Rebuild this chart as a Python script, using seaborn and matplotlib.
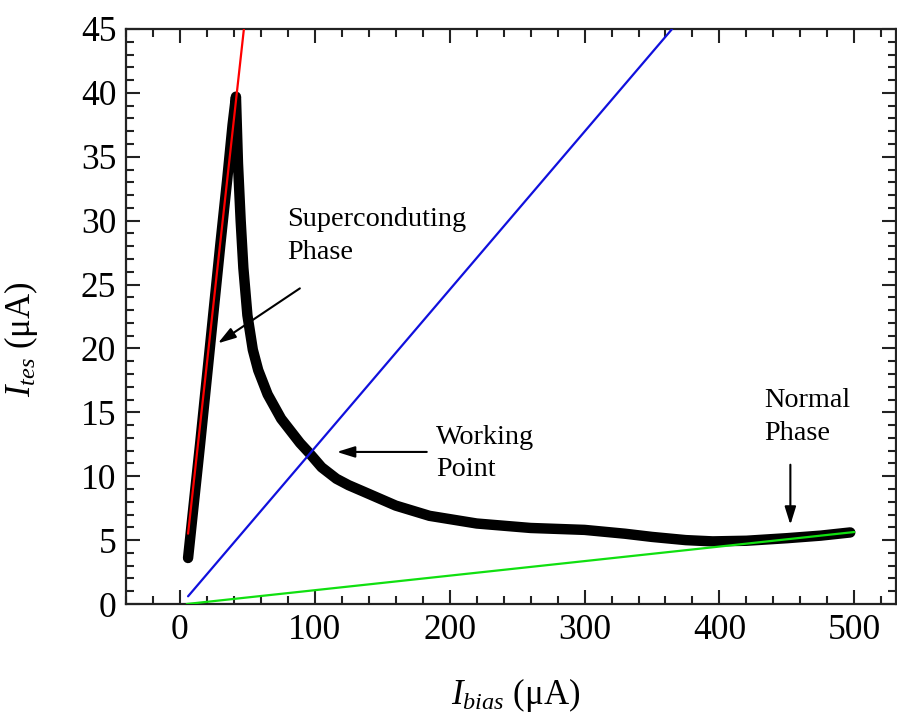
import numpy as np
import pandas as pd
import matplotlib
matplotlib.use("Agg")
import matplotlib.pyplot as plt
import seaborn as sns
from matplotlib.ticker import MultipleLocator

# ---- data ----
i_bias = [6, 10, 15, 20, 25, 30, 35, 39, 41.5, 43, 45, 47, 50, 54, 58, 65, 75,
          89, 96, 105, 116, 125, 136, 160, 185, 220, 260, 300, 330, 350, 375,
          395, 420, 450, 475, 497]
i_tes = [3.6, 7.6, 12.6, 17.8, 23.0, 28.2, 33.2, 37.5, 39.7, 34.5, 30.0, 26.3,
         22.6, 19.9, 18.3, 16.4, 14.5, 12.6, 11.8, 10.7, 9.8, 9.3, 8.8, 7.7, 6.9,
         6.3, 5.95, 5.8, 5.5, 5.25, 5.0, 4.9, 4.95, 5.15, 5.35, 5.6]

# fit lines: slope, intercept, x-range
super_fit = dict(slope=0.954, icpt=-0.22, x=[6, 47.4])
load_fit = dict(slope=0.1237, icpt=-0.14, x=[6, 365])
normal_fit = dict(slope=0.01138, icpt=-0.057, x=[5, 500])

sns.set_theme(style="ticks")
plt.rcParams["font.family"] = ["Liberation Serif", "DejaVu Serif"]
plt.rcParams["mathtext.fontset"] = "custom"
plt.rcParams["mathtext.rm"] = "Liberation Serif"
plt.rcParams["mathtext.it"] = "Liberation Serif:italic"
plt.rcParams["text.color"] = "black"
plt.rcParams["axes.labelcolor"] = "black"

fig = plt.figure(figsize=(8.97, 7.17), dpi=100)
ax = fig.add_axes([0.1405, 0.1576, 0.8585, 0.802])

df = pd.DataFrame({"bias": i_bias, "tes": i_tes})
sns.lineplot(data=df, x="bias", y="tes", ax=ax, color="black", linewidth=7.5,
             solid_capstyle="round", solid_joinstyle="round", zorder=2)

for fit, col in [(super_fit, "#ff0000"), (load_fit, "#1010dd"), (normal_fit, "#10e010")]:
    xs = np.array(fit["x"], dtype=float)
    ys = fit["slope"] * xs + fit["icpt"]
    sns.lineplot(x=xs, y=ys, ax=ax, color=col, linewidth=1.6, zorder=3)

ax.set_xlim(-40, 531)
ax.set_ylim(0, 45)
ax.xaxis.set_major_locator(MultipleLocator(100))
ax.xaxis.set_minor_locator(MultipleLocator(20))
ax.yaxis.set_major_locator(MultipleLocator(5))
ax.yaxis.set_minor_locator(MultipleLocator(1))
ax.tick_params(which="both", direction="in", top=True, right=True, width=1.5,
               colors="#222222", labelcolor="black")
ax.tick_params(which="major", length=10, labelsize=25.5, pad=7)
ax.tick_params(which="minor", length=5.5)
for s in ax.spines.values():
    s.set_linewidth(1.6)
    s.set_color("#222222")

ax.set_xlabel(r"$I_{bias}$ (μA)", fontsize=25)
ax.set_ylabel(r"$I_{tes}$ (μA)", fontsize=25)
ax.xaxis.set_label_coords(0.506, -0.125)
ax.yaxis.set_label_coords(-0.112, 0.46)

arrow = dict(arrowstyle="-|>,head_length=0.9,head_width=0.28", color="black",
             lw=1.5, shrinkA=0, shrinkB=0)
ax.annotate("", xy=(28.1, 20.4), xytext=(88.9, 24.7), arrowprops=arrow)
ax.annotate("", xy=(116.3, 11.9), xytext=(183, 11.9), arrowprops=arrow)
ax.annotate("", xy=(452.6, 6.2), xytext=(452.6, 10.9), arrowprops=arrow)

ax.text(79.3, 31.1, "Superconduting\nPhase", fontsize=20.3, va="top", ha="left",
        linespacing=1.45)
ax.text(190, 14.0, "Working\nPoint", fontsize=20.3, va="top", ha="left",
        linespacing=1.35)
ax.text(433, 16.9, "Normal\nPhase", fontsize=20.3, va="top", ha="left",
        linespacing=1.4)

fig.savefig("out.png", dpi=100)
